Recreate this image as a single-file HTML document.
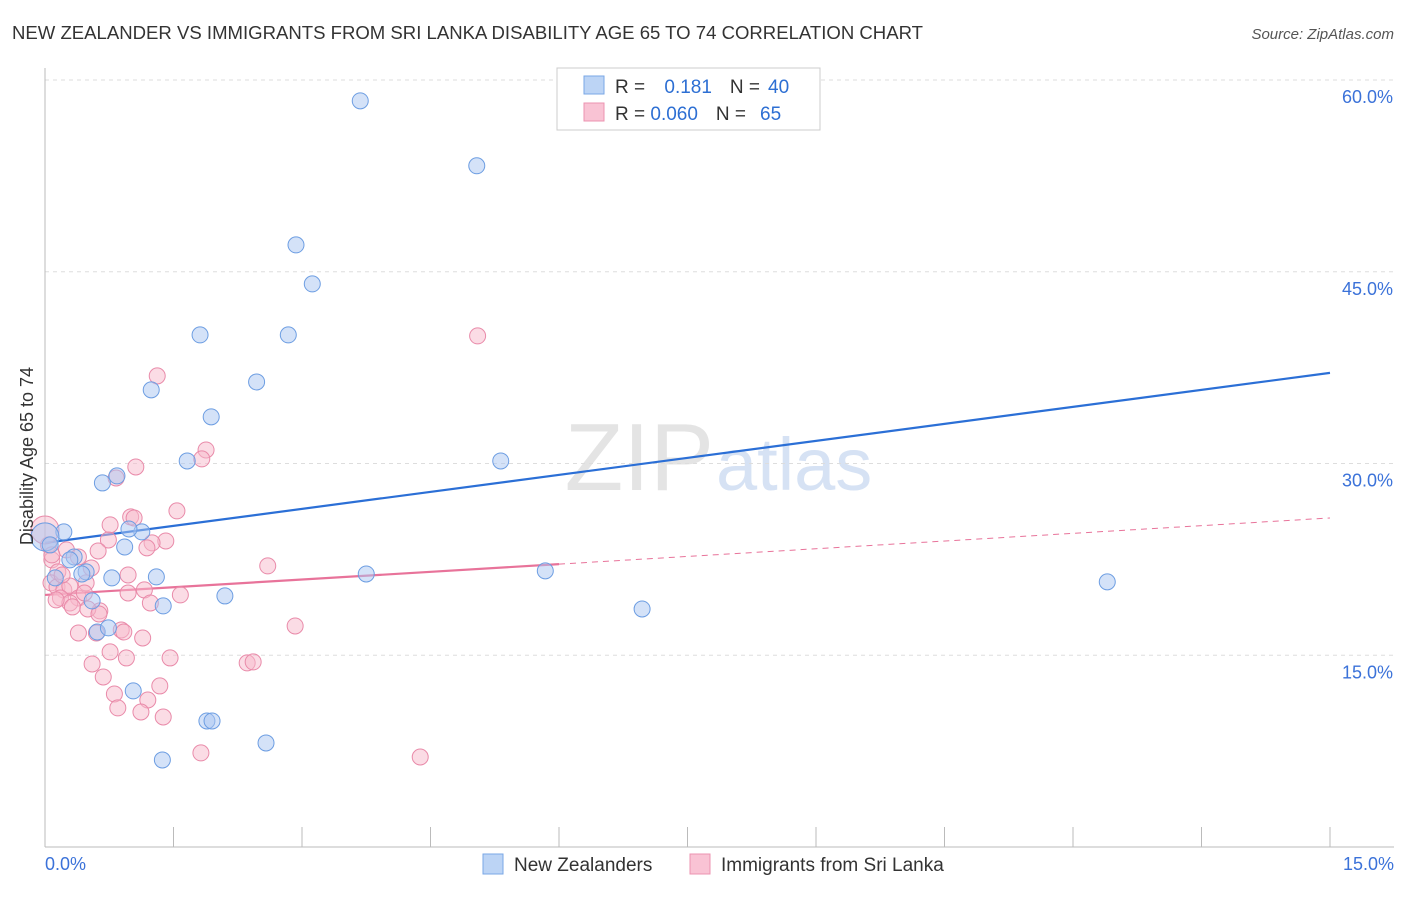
<!DOCTYPE html>
<html><head><meta charset="utf-8"><style>
body{margin:0;background:#fff;font-family:"Liberation Sans",sans-serif}
svg text{font-family:"Liberation Sans",sans-serif}
</style></head><body>
<svg id="chart" width="1406" height="892" xmlns="http://www.w3.org/2000/svg">
<text x="12" y="39" font-size="18" fill="#333" textLength="911" lengthAdjust="spacingAndGlyphs">NEW ZEALANDER VS IMMIGRANTS FROM SRI LANKA DISABILITY AGE 65 TO 74 CORRELATION CHART</text>
<text x="1394" y="39" font-size="15" fill="#555" text-anchor="end" font-style="italic">Source: ZipAtlas.com</text>
<text x="714" y="490" font-size="96" fill="#e4e4e4" text-anchor="end" font-family="Liberation Serif">ZIP</text>
<text x="716" y="490" font-size="74" fill="#d6e2f4">atlas</text>
<g id="grid"></g><g id="axes"></g><g id="lines"></g><g id="pts"></g>
<text transform="translate(33,456) rotate(-90)" font-size="18" fill="#333" text-anchor="middle">Disability Age 65 to 74</text>
<g>
<rect x="557" y="68" width="263" height="62" fill="#fff" stroke="#ccc"/>
<rect x="584" y="76" width="20" height="18" fill="#bcd4f5" stroke="#7aa7e6"/>
<rect x="584" y="103" width="20" height="18" fill="#f9c3d4" stroke="#ec93b0"/>
<text x="615" y="93" font-size="19" fill="#333">R = <tspan fill="#2d6fd3" dx="14">0.181</tspan><tspan dx="18" fill="#333">N =</tspan><tspan dx="8" fill="#2d6fd3">40</tspan></text>
<text x="615" y="120" font-size="19" fill="#333">R = <tspan fill="#2d6fd3">0.060</tspan><tspan dx="18" fill="#333">N =</tspan><tspan dx="14" fill="#2d6fd3">65</tspan></text>
</g>
<g>
<rect x="483" y="854" width="20" height="20" fill="#bcd4f5" stroke="#7aa7e6"/>
<text x="514" y="871" font-size="19" fill="#333">New Zealanders</text>
<rect x="690" y="854" width="20" height="20" fill="#f9c3d4" stroke="#ec93b0"/>
<text x="721" y="871" font-size="19" fill="#333">Immigrants from Sri Lanka</text>
</g>
</svg>
<script>
const yTicks=[15,30,45,60];
const yTickLabels=["15.0%","30.0%","45.0%","60.0%"];
const xTickLabels=["0.0%","15.0%"];
const blueX=[3.68,5.04,2.93,3.12,1.81,2.84,2.47,1.24,1.94,1.66,5.32,0.84,0.67,0.22,1.13,0.98,0.00,0.93,0.06,0.34,0.29,0.48,0.43,0.78,1.30,3.75,5.84,12.40,2.10,0.55,1.38,6.97,0.61,0.74,1.03,1.89,1.95,2.58,1.37,0.12];
const blueY=[58.37,53.29,47.10,44.05,40.06,40.06,36.38,35.76,33.65,30.20,30.20,29.03,28.48,24.65,24.65,24.88,24.26,23.47,23.63,22.69,22.46,21.52,21.36,21.05,21.13,21.36,21.60,20.74,19.64,19.25,18.86,18.62,16.82,17.14,12.21,9.86,9.86,8.14,6.81,21.05];
const pinkX=[5.05,1.31,1.88,1.83,1.06,0.83,1.54,1.00,1.04,0.76,0.74,1.41,1.25,0.62,1.19,0.25,0.04,0.39,0.08,2.60,0.54,0.97,0.15,0.07,0.14,0.48,0.22,0.29,1.16,0.97,1.58,0.18,0.39,0.29,0.32,1.23,0.64,0.50,0.63,2.92,0.39,0.89,0.60,0.92,1.14,0.76,0.95,1.46,0.55,2.36,2.43,0.68,1.34,0.81,1.20,0.85,1.12,1.38,1.82,4.38,0.00,0.08,0.20,0.46,0.13];
const pinkY=[39.98,36.85,31.06,30.36,29.73,28.87,26.29,25.82,25.74,25.20,24.02,23.94,23.79,23.16,23.40,23.24,23.63,22.69,22.46,21.99,21.83,21.28,21.52,20.66,20.34,20.66,20.11,20.42,20.11,19.87,19.72,19.48,19.48,19.09,18.78,19.09,18.47,18.62,18.23,17.29,16.74,16.98,16.74,16.82,16.35,15.26,14.79,14.79,14.32,14.40,14.48,13.30,12.60,11.97,11.50,10.88,10.56,10.17,7.36,7.04,24.80,22.85,21.28,19.87,19.33];
const blueTrend=[23.79,37.09];
const pinkTrend=[19.72,25.74];
const pinkSolidEnd=6.0;
const NS="http://www.w3.org/2000/svg";
const sx=v=>45+v*(1285/15), sy=v=>847-v*(767/60);
function mk(tag,attrs,parent){const e=document.createElementNS(NS,tag);for(const k in attrs)e.setAttribute(k,attrs[k]);parent.appendChild(e);return e;}
const grid=document.getElementById('grid'),axes=document.getElementById('axes'),lines=document.getElementById('lines'),pts=document.getElementById('pts');
yTicks.forEach((t,i)=>{
 const l=mk('line',{x1:45,x2:1394,y1:sy(t),y2:sy(t),stroke:'#ddd','stroke-dasharray':'4,4'},grid);
 
 
 const tx=mk('text',{x:1393,y:sy(t)+23,'font-size':18,fill:'#3b72d9','text-anchor':'end'},grid);
 tx.textContent=yTickLabels[i];
 
 
});
const ax=mk('line',{x1:45,x2:45,y1:68,y2:847,stroke:'#bbb'},axes);


const bx=mk('line',{x1:45,x2:1394,y1:847,y2:847,stroke:'#bbb'},axes);


for(let i=0;i<=10;i++){const t=mk('line',{x1:sx(i*1.5),x2:sx(i*1.5),y1:827,y2:847,stroke:'#bbb'},axes);
 
 }
[[0,'start',45],[15,'end',1394]].forEach((d,i)=>{const t=mk('text',{x:d[2],y:870,'font-size':18,fill:'#3b72d9','text-anchor':d[1]},axes);t.textContent=xTickLabels[i];
 
 });
function dot(x,y,fill,stroke,name){const r=(x===0)?14:8;const c=mk('circle',{cx:sx(x),cy:sy(y),r:r,fill:fill,'fill-opacity':0.5,stroke:stroke,'stroke-width':1},pts);
 
 }
pinkX.forEach((x,i)=>dot(x,pinkY[i],'#f7b9cc','#e98aa9','point-sri-lanka'));
blueX.forEach((x,i)=>dot(x,blueY[i],'#a9c6f1','#6c9de2','point-new-zealander'));
const bl=mk('line',{x1:sx(0),y1:sy(blueTrend[0]),x2:sx(15),y2:sy(blueTrend[1]),stroke:'#2b6fd6','stroke-width':2.2},lines);


const pAt=x=>pinkTrend[0]+(pinkTrend[1]-pinkTrend[0])*x/15;
const pl=mk('line',{x1:sx(0),y1:sy(pinkTrend[0]),x2:sx(pinkSolidEnd),y2:sy(pAt(pinkSolidEnd)),stroke:'#e8739a','stroke-width':2.2},lines);


const pd=mk('line',{x1:sx(pinkSolidEnd),y1:sy(pAt(pinkSolidEnd)),x2:sx(15),y2:sy(pinkTrend[1]),stroke:'#e8739a','stroke-width':1,'stroke-dasharray':'6,5'},lines);


</script>
</body></html>
